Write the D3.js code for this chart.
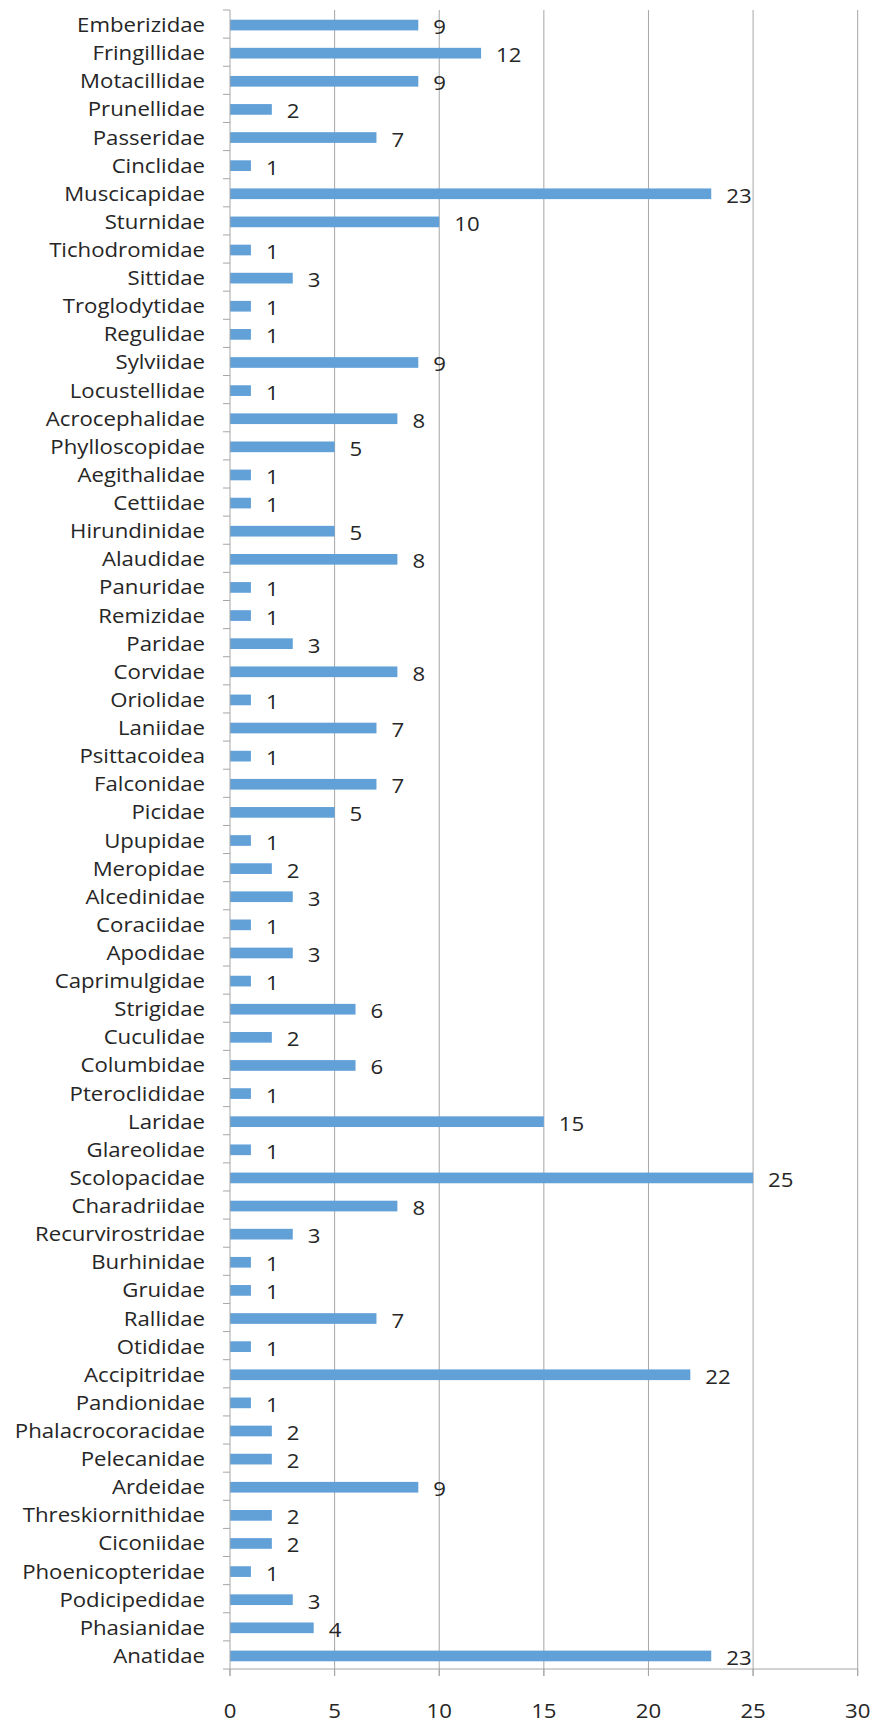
<!DOCTYPE html>
<html><head><meta charset="utf-8">
<script src="https://cdn.jsdelivr.net/npm/d3@7"></script>
<style>html,body{margin:0;padding:0;background:#fff;}svg{display:block;}</style>
</head><body>
<script>
const families = ["Emberizidae","Fringillidae","Motacillidae","Prunellidae","Passeridae","Cinclidae","Muscicapidae","Sturnidae","Tichodromidae","Sittidae","Troglodytidae","Regulidae","Sylviidae","Locustellidae","Acrocephalidae","Phylloscopidae","Aegithalidae","Cettiidae","Hirundinidae","Alaudidae","Panuridae","Remizidae","Paridae","Corvidae","Oriolidae","Laniidae","Psittacoidea","Falconidae","Picidae","Upupidae","Meropidae","Alcedinidae","Coraciidae","Apodidae","Caprimulgidae","Strigidae","Cuculidae","Columbidae","Pteroclididae","Laridae","Glareolidae","Scolopacidae","Charadriidae","Recurvirostridae","Burhinidae","Gruidae","Rallidae","Otididae","Accipitridae","Pandionidae","Phalacrocoracidae","Pelecanidae","Ardeidae","Threskiornithidae","Ciconiidae","Phoenicopteridae","Podicipedidae","Phasianidae","Anatidae"];
const counts = [9,12,9,2,7,1,23,10,1,3,1,1,9,1,8,5,1,1,5,8,1,1,3,8,1,7,1,7,5,1,2,3,1,3,1,6,2,6,1,15,1,25,8,3,1,1,7,1,22,1,2,2,9,2,2,1,3,4,23];
const xTicks = [0,5,10,15,20,25,30];

const W = 872, H = 1724;
const m = {left: 230, right: W - 857.7, top: 10, bottom: H - 1669};
const font = "'Open Sans', Lato, sans-serif";
const fs = 20, sx = 1.11, tc = "#262626";
const svg = d3.select("body").append("svg").attr("width", W).attr("height", H);

const x = d3.scaleLinear().domain([0, 30]).range([m.left, W - m.right]);
const y = d3.scaleBand().domain(families).range([m.top, H - m.bottom]).paddingInner(0.62).paddingOuter(0.31);
const yb = d3.scaleBand().domain(families).range([m.top, H - m.bottom]);

const grid = "#a6a6a6";
svg.append("g").selectAll("line").data(xTicks.filter(d => d > 0)).join("line")
  .attr("x1", d => x(d)).attr("x2", d => x(d))
  .attr("y1", m.top).attr("y2", H - m.bottom + 7)
  .attr("stroke", grid).attr("stroke-width", 1);

svg.append("g").selectAll("rect").data(families).join("rect")
  .attr("x", x(0)).attr("y", (d) => y(d) + 1)
  .attr("width", (d, i) => x(counts[i]) - x(0))
  .attr("height", y.bandwidth())
  .attr("fill", "#62a0d8");

const gy = svg.append("g").attr("transform", `translate(${x(0)},0)`);
gy.append("line").attr("x1", 0).attr("x2", 0).attr("y1", m.top).attr("y2", H - m.bottom + 7).attr("stroke", grid);
gy.selectAll("line.t").data(families.map(d => yb(d)).concat([H - m.bottom])).join("line").attr("class","t")
  .attr("x1", -7).attr("x2", 0).attr("y1", d => d).attr("y2", d => d).attr("stroke", grid);
gy.selectAll("g.lab").data(families).join("g").attr("class","lab")
  .attr("transform", d => `translate(-25,${yb(d) + yb.bandwidth() / 2 + 1}) scale(${sx},1)`)
  .append("text").attr("dy", "0.35em").attr("text-anchor", "end")
  .attr("font-family", font).attr("font-size", fs).attr("fill", tc)
  .text(d => d);

const gx = svg.append("g").attr("transform", `translate(0,${H - m.bottom})`);
gx.append("line").attr("x1", x(0)).attr("x2", x(30)).attr("y1", 0).attr("y2", 0).attr("stroke", grid);
gx.selectAll("line.t").data(xTicks).join("line").attr("class","t")
  .attr("x1", d => x(d)).attr("x2", d => x(d)).attr("y1", 0).attr("y2", 7).attr("stroke", grid);
gx.selectAll("g.lab").data(xTicks).join("g").attr("class","lab")
  .attr("transform", d => `translate(${x(d)},42) scale(${sx},1)`)
  .append("text").attr("dy", "0.35em").attr("text-anchor", "middle")
  .attr("font-family", font).attr("font-size", fs).attr("fill", tc)
  .text(d => d);

svg.append("g").selectAll("g").data(families).join("g")
  .attr("transform", (d, i) => `translate(${x(counts[i]) + 15},${y(d) + 1 + y.bandwidth() / 2 + 2}) scale(${sx},1)`)
  .append("text").attr("dy", "0.35em")
  .attr("font-family", font).attr("font-size", fs).attr("fill", tc)
  .text((d, i) => counts[i]);
</script>
</body></html>
